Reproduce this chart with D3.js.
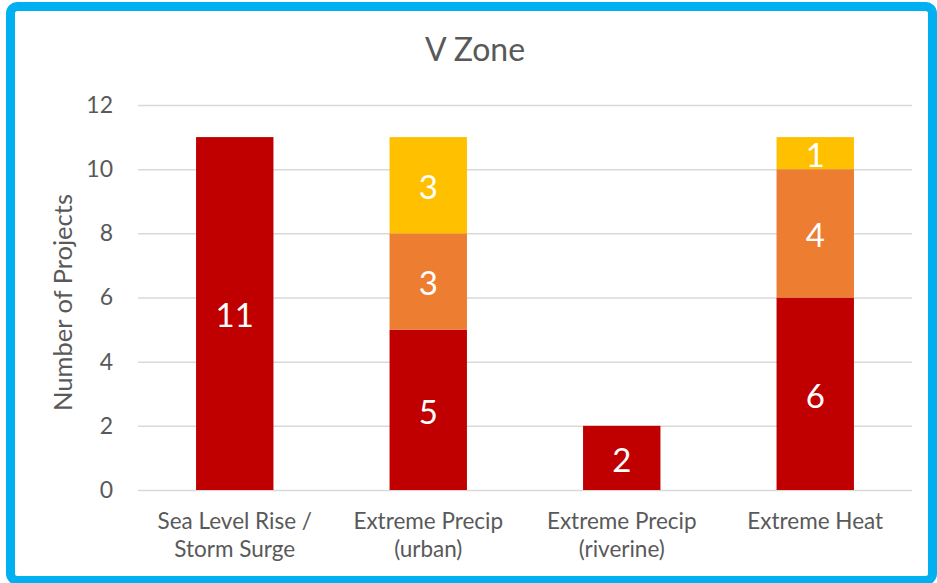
<!DOCTYPE html>
<html>
<head>
<meta charset="utf-8">
<script src="https://cdn.jsdelivr.net/npm/d3@7"></script>
<style>
  body { margin: 0; background: #fff; }
  svg text { font-family: Lato, "Open Sans", sans-serif; }
</style>
</head>
<body>
<svg id="chart"></svg>
<script>
// categories (two-line labels) and the stacked series
var categories = ["Sea Level Rise / Storm Surge", "Extreme Precip (urban)", "Extreme Precip (riverine)", "Extreme Heat"];
var catLines = [["Sea Level Rise /", "Storm Surge"], ["Extreme Precip", "(urban)"], ["Extreme Precip", "(riverine)"], ["Extreme Heat"]];
var seriesNames = ["high", "medium", "low"];
var highVals = [11, 5, 2, 6];
var mediumVals = [0, 3, 0, 4];
var lowVals = [0, 3, 0, 1];
var seriesColors = ["#C00000", "#ED7D31", "#FFC000"];
var yTicks = [0, 2, 4, 6, 8, 10, 12];

var screen = {width: 937, height: 583};
var margins = {left: 138, right: 25, top: 105, bottom: 93};
var graph = {
    width: screen.width - margins.left - margins.right,
    height: screen.height - margins.top - margins.bottom
};

var svg = d3.select("#chart")
    .attr("width", screen.width)
    .attr("height", screen.height);

// blue frame around the chart
svg.append("rect")
    .attr("x", 10.5)
    .attr("y", 6.5)
    .attr("width", 922)
    .attr("height", 574)
    .attr("rx", 7)
    .attr("fill", "#fff")
    .attr("stroke", "#00B0F0")
    .attr("stroke-width", 9);

var rows = categories.map(function(c, i) {
    return {cat: c, high: highVals[i], medium: mediumVals[i], low: lowVals[i]};
});
var stacked = d3.stack().keys(seriesNames)(rows);

var xScale = d3.scaleBand()
    .domain(categories)
    .range([0, graph.width])
    .paddingInner(0.6)
    .paddingOuter(0.3);

var yScale = d3.scaleLinear()
    .domain([0, 12])
    .range([graph.height, 0]);

var target = svg.append("g")
    .attr("transform", "translate(" + margins.left + "," + margins.top + ")");

// gridlines + y tick labels
var yAxis = d3.axisLeft(yScale)
    .tickValues(yTicks)
    .tickSize(-graph.width)
    .tickPadding(25);
var yg = target.append("g").call(yAxis);
yg.select(".domain").remove();
yg.selectAll(".tick line").attr("stroke", "#D9D9D9").attr("stroke-width", 1.5);
yg.selectAll(".tick text")
    .attr("fill", "#595959")
    .style("font-size", "23px");

// bars
var layers = target.selectAll(".layer")
    .data(stacked)
    .enter()
    .append("g")
    .attr("class", "layer")
    .attr("fill", function(d, i) { return seriesColors[i]; });

layers.selectAll("rect")
    .data(function(d) { return d.filter(function(s) { return s[1] > s[0]; }); })
    .enter()
    .append("rect")
    .attr("x", function(s) { return xScale(s.data.cat); })
    .attr("width", xScale.bandwidth())
    .attr("y", function(s) { return yScale(s[1]); })
    .attr("height", function(s) { return yScale(s[0]) - yScale(s[1]); });

layers.selectAll("text")
    .data(function(d) { return d.filter(function(s) { return s[1] > s[0]; }); })
    .enter()
    .append("text")
    .attr("x", function(s) { return xScale(s.data.cat) + xScale.bandwidth() / 2; })
    .attr("y", function(s) { return (yScale(s[0]) + yScale(s[1])) / 2; })
    .attr("dy", "0.42em")
    .attr("text-anchor", "middle")
    .attr("fill", "#fff")
    .style("font-size", "33px")
    .text(function(s) { return s[1] - s[0]; });

// category labels
var xg = target.append("g")
    .attr("transform", "translate(0," + graph.height + ")");
categories.forEach(function(c, i) {
    var t = xg.append("text")
        .attr("x", xScale(c) + xScale.bandwidth() / 2)
        .attr("y", 39)
        .attr("text-anchor", "middle")
        .attr("fill", "#595959")
        .style("font-size", "22.5px");
    catLines[i].forEach(function(line, j) {
        t.append("tspan")
            .attr("x", xScale(c) + xScale.bandwidth() / 2)
            .attr("dy", j === 0 ? 0 : 28)
            .text(line);
    });
});

// title and axis title
svg.append("text")
    .text("V Zone")
    .attr("x", 475)
    .attr("y", 61)
    .attr("text-anchor", "middle")
    .attr("fill", "#595959")
    .style("font-size", "32px");

svg.append("text")
    .text("Number of Projects")
    .attr("text-anchor", "middle")
    .attr("fill", "#595959")
    .style("font-size", "25.5px")
    .attr("transform", "translate(72," + (margins.top + graph.height / 2 + 5) + ") rotate(-90)");
</script>
</body>
</html>
